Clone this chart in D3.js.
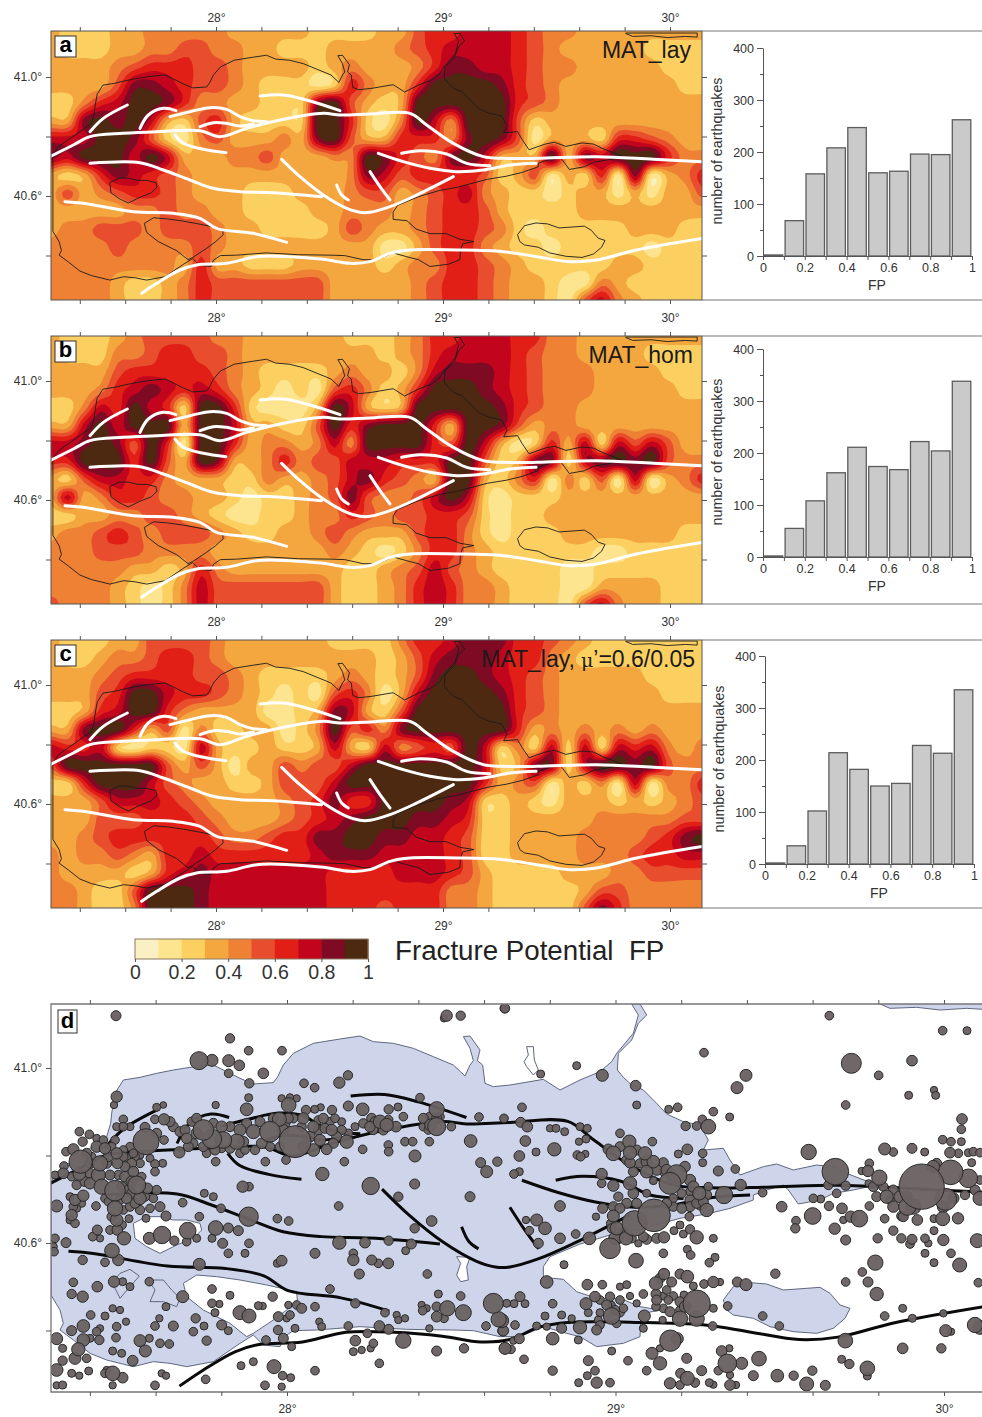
<!DOCTYPE html>
<html>
<head>
<meta charset="utf-8">
<script src="https://cdnjs.cloudflare.com/ajax/libs/d3/7.8.5/d3.min.js"></script>
<style>
  body { margin: 0; background: #fff; }
  svg { display: block; font-family: "Liberation Sans", Arial, sans-serif; }
  .axis path, .axis line { stroke: #555; }
  .axis text { fill: #333; }
</style>
</head>
<body>
<svg id="fig" width="982" height="1417"></svg>
<script>
// Fracture potential class (first digit of FP) read on a 40 x 16 grid over each map
const fpLay = [
  "3222334444433333222233566777654433333333",
  "3222334455443322233334567777654333332222",
  "3333456665543333234333468877654433333222",
  "3333588765543222126433699998654333333322",
  "2246799864433222895323999999654333333333",
  "3389897325632222996214974999523333333333",
  "7779985214533343895336664898513332665433",
  "8799979733344533344986548973339387999644",
  "3236876543333333334875666652351326181346",
  "3534566543332223334553456743221233131335",
  "3333344544332222334443456653222233333333",
  "3445554555433222235433456654212222233322",
  "4444544445433333333311356643221222221222",
  "4444444436332223333323446654322222332222",
  "4444322346555555533333456654332114322222",
  "4444322346555555533333456654332157432222"
];
const fpHom = [
  "3222345555443333332223466777664433333333",
  "3222445665543333333323467777654433332222",
  "3333566666543222234332478887654443333222",
  "3334678767643212156423699987654443333322",
  "2247697629962111397323999998654433333333",
  "3379799939973322596899963998534433333333",
  "7789859619963443474999965973126372757533",
  "6699969539833464557776669952388278989544",
  "3257766433322433457865439932461425171346",
  "3734665443321223458544579721222333333333",
  "2233445543211223446545566521223333333333",
  "3445654555432233454333566421222333333322",
  "4445554444333333343212466432222221122222",
  "4444433236433333332234575432222112222222",
  "4444321247555555532234676443222113333222",
  "5444321247555555532234676443222157433222"
];
const fpLow = [
  "3222335555433333322224667888665432222222",
  "3223445665433333333323578887664322222222",
  "3334566665543222234323589987654333332222",
  "3335699766543212156413799998654333333222",
  "2236799643333112387325999999654333333333",
  "3389963514223312495648999999634343434333",
  "7667212217322322373274565972427272767434",
  "5999999535313354557999999972388279989544",
  "2269997543322355579999999963451324171446",
  "3335777654333345686699998722321333232345",
  "3335556665433345678999887622333334444455",
  "3345666666544566889988776522333344445689",
  "4344543667666666788877776522333344456677",
  "4333323678777777766667776532222333445555",
  "4432259998777777766666664432222235544444",
  "4432249998777777766656664432222258644444"
];

const fpClasses = ["#fbf0c4", "#fde58f", "#fcd060", "#f3a73e", "#ee8134", "#e84e2d", "#e21f17", "#c2051d", "#7f0a24", "#4e2911"];
const fpThresholds = [0.1, 0.2, 0.3, 0.4, 0.5, 0.6, 0.7, 0.8, 0.9];
const fpLabels = [0, 0.2, 0.4, 0.6, 0.8, 1];

// Number of earthquakes per FP bin (0-0.1 ... 0.9-1)
const histLay = [2, 68, 158, 208, 247, 160, 163, 196, 195, 262];
const histHom = [2, 55, 108, 162, 211, 174, 168, 222, 204, 338];
const histLow = [2, 35, 102, 214, 182, 150, 155, 228, 213, 335];

const lonTicks = [27.4, 27.6, 27.8, 28, 28.2, 28.4, 28.6, 28.8, 29, 29.2, 29.4, 29.6, 29.8, 30];
const latTicks = [41, 40.8, 40.6, 40.4];

// Fault traces, digitiser counts on the 3x enlargement of map a (681 per deg lon, 892.5 per deg lat)
const faults = [
  [[30,470],[100,435],[150,410],[250,400],[350,395],[480,392],[540,410],[620,385],[720,360],[850,340],[900,345],[990,342],[1110,340],[1160,375],[1240,430],[1330,470],[1390,475],[1490,475],[1670,470],[1840,478],[1985,485]],
  [[150,395],[190,355],[262,315]],
  [[300,385],[325,345],[370,325],[408,332]],
  [[390,350],[450,335],[510,323],[560,328],[600,350],[640,362],[680,365]],
  [[480,380],[520,368],[560,370],[600,378],[640,372]],
  [[405,405],[430,430],[490,448],[558,458]],
  [[150,490],[300,488],[370,510],[450,540],[520,565],[600,575],[700,578],[845,590]],
  [[75,605],[130,610],[280,635],[400,640],[480,655],[530,685],[640,700],[740,727]],
  [[660,288],[730,285],[800,300],[900,332]],
  [[725,478],[780,530],[850,585],[920,625],[960,637],[990,637],[1050,620],[1120,590],[1240,530]],
  [[890,555],[905,585],[925,600]],
  [[990,515],[1020,560],[1050,600]],
  [[1015,460],[1090,485],[1170,505],[1250,515],[1330,510],[1410,495],[1488,490]],
  [[1085,460],[1140,452],[1220,462],[1280,490],[1350,497]],
  [[305,880],[350,850],[420,810],[470,795],[560,790],[650,770],[750,770],[850,778],[930,790],[990,785],[1050,760],[1110,750],[1250,750],[1390,755],[1490,770],[1590,785],[1670,780],[1790,750],[1990,715]]
];

// Coast outlines, digitiser counts on the 3x enlargement of map d (985.5 per deg lon, 1312.5 per deg lat)
const coastMain = [[33,575],[60,540],[100,510],[130,490],[170,460],[200,440],[212,400],[215,370],[225,310],[250,270],[300,262],[350,250],[400,240],[450,232],[520,225],[570,250],[600,265],[640,282],[700,278],[712,262],[730,225],[760,190],[820,160],[900,147],[960,138],[1000,155],[1060,160],[1120,175],[1180,200],[1240,225],[1275,258],[1290,225],[1300,212],[1290,175],[1270,140],[1290,138],[1320,180],[1312,212],[1328,225],[1335,280],[1360,290],[1410,285],[1440,280],[1510,268],[1560,300],[1620,270],[1680,245],[1715,215],[1730,190],[1780,130],[1795,75],[1775,42],[1800,42],[1820,75],[1795,100],[1775,150],[1735,190],[1732,240],[1750,262],[1775,285],[1810,300],[1850,340],[1880,372],[1930,395],[1980,405],[2005,450],[1990,480],[2050,475],[2070,510],[2100,555],[2170,530],[2210,522],[2260,540],[2330,525],[2380,530],[2420,550],[2510,585],[2440,600],[2380,610],[2340,630],[2275,642],[2245,600],[2230,585],[2180,600],[2140,615],[2140,630],[2070,655],[2000,672],[1920,685],[1790,720],[1710,735],[1620,762],[1530,800],[1510,830],[1510,862],[1570,868],[1610,905],[1670,925],[1740,925],[1800,950],[1860,960],[1812,970],[1802,1000],[1800,1040],[1750,1060],[1670,1070],[1620,1040],[1580,1030],[1510,1010],[1440,1040],[1380,1040],[1300,1022],[1240,1020],[1100,1018],[960,1010],[830,1020],[760,1022],[730,1042],[720,1070],[670,1065],[640,1035],[600,1060],[520,1115],[440,1130],[390,1120],[340,1115],[280,1130],[200,1110],[150,1090],[100,1050],[60,1020],[70,1000],[60,960],[33,915]];
const islandKapidag = [[430,880],[470,855],[530,860],[600,870],[680,885],[770,905],[772,930],[740,960],[700,990],[640,1030],[620,1040],[570,1000],[490,960],[440,920]];
const islandSmall = [[280,700],[320,680],[360,680],[400,690],[440,690],[480,700],[485,720],[460,745],[410,765],[360,790],[320,770],[285,745]];
const lakeHole = [[1250,800],[1290,802],[1280,830],[1285,870],[1262,875],[1250,855],[1262,820]];
const lakeIznik = [[2050,930],[2080,890],[2130,878],[2180,882],[2230,900],[2340,892],[2370,910],[2400,945],[2430,955],[2415,985],[2380,1015],[2330,1030],[2260,1025],[2190,1010],[2140,985],[2080,975],[2060,960]];
const coastNorth = [[2520,42],[2550,55],[2630,52],[2700,60],[2780,55],[2830,58],[2830,40],[2520,40]];
const outlinesInland = [
  [[240,850],[270,838],[298,858],[270,890],[240,925],[228,900],[215,880],[240,850]],
  [[325,870],[370,870],[395,900],[420,925],[410,950],[370,935],[330,935],[345,900],[325,870]],
  [[1460,170],[1480,170],[1483,210],[1495,240],[1480,255],[1460,230],[1452,215],[1465,195],[1460,170]]
];

// Earthquakes in map d: x, y in the same counts, size in counts
const quakesWest = [[228,77,12],[1220,77,14],[1212,85,8],[1262,77,11],[1394,55,11],[570,145,11],[626,182,10],[726,182,10],[477,212,24],[516,211,15],[566,212,15],[598,226,13],[670,250,13],[566,250,10],[628,280,11],[924,256,11],[898,278,14],[792,280,10],[824,293,10],[230,320,14],[222,345,8],[626,323,9],[527,345,8],[620,358,16],[725,325,8],[746,345,19],[770,325,8],[750,322,8],[925,348,12],[968,358,16],[876,360,11],[842,352,8],[824,358,9],[798,360,11],[1046,358,11],[1074,351,9],[1140,323,10],[1190,358,20],[370,345,7],[350,352,9],[1317,381,10],[1392,385,10],[1090,380,10],
[250,388,10],[230,410,9],[250,410,10],[270,410,9],[315,412,12],[345,388,10],[372,388,14],[400,410,12],[420,425,12],[470,385,12],[490,420,28],[516,447,26],[545,410,14],[550,450,22],[590,455,20],[570,410,12],[600,420,15],[640,425,18],[690,425,28],[718,388,18],[765,455,45],[790,385,14],[820,410,14],[850,385,12],[870,395,10],[885,385,10],[875,420,14],[905,420,11],[920,455,17],[945,410,9],[995,385,12],[990,410,13],[1020,395,17],[1040,405,17],[1068,410,13],[1150,385,12],[1172,405,15],[1190,410,24],[1234,410,10],[1150,410,10],[1292,453,16],[1095,455,10],[1118,455,10],[1168,455,10],[1125,498,15],[1045,465,10],[1046,485,10],[968,478,10],[913,515,10],[847,552,17],[860,478,13],[820,480,16],[790,470,14],[840,450,14],[445,470,12],[418,487,14],[500,490,10],[527,515,10],[570,475,12],[600,490,10],[645,480,11],[676,515,10],[738,510,10],[318,455,36],[372,450,10],[350,430,12],[270,470,10],[180,520,20],[122,515,32],[175,555,18],[118,552,16],[170,470,14],[195,475,14],[230,490,14],[232,520,13],[200,520,12],[225,450,10],[78,485,10],[100,478,14],[118,425,10],[128,455,11],[148,433,10],[72,528,10],[70,550,13],[45,555,9],[150,580,14],[185,590,20],[225,602,28],[290,585,24],[255,560,13],[280,545,13],[275,520,12],[345,522,10],[368,520,9],[345,545,10],[322,595,13],[300,625,16],[260,625,13],[270,650,11],[225,655,20],[230,690,16],[50,648,15],[105,630,14],[130,617,14],[100,650,10],[95,675,14],[105,700,10],[168,648,10],[330,655,10],[300,660,11],[360,650,12],[378,678,12],[267,686,9],[318,685,9],[232,720,13],[252,745,17],[172,720,12],[180,745,8],[158,740,10],[328,745,15],[366,735,23],[403,752,11],[443,722,22],[470,745,9],[440,755,10],[478,680,10],[428,638,10],[527,714,19],[565,714,12],[595,722,12],[516,745,9],[548,760,12],[626,680,26],[712,686,10],[746,693,10],[608,590,14],[627,590,10],[493,610,9],[520,620,9],[543,655,10],[627,760,10],[565,790,10],[615,790,9],[992,588,23],[1124,582,12],[1075,620,11],[1290,620,12],[1322,518,12],[1340,545,15],[1372,515,11],[896,648,10],[1175,693,13],[1124,715,11],[45,745,10],[78,758,12],[40,770,9],[42,785,10],[216,782,19],[235,810,14],[195,817,10],[128,810,11],[898,758,17],[975,758,13],[1046,752,11],[1114,762,12],[1097,782,9],[825,790,12],[940,790,10],[940,810,14],[725,812,13],[712,820,9],[995,810,12],[1015,820,10],[1045,820,13],[478,823,15],[958,852,12],[1162,852,10],[100,877,10],[172,890,13],[222,875,14],[248,875,9],[270,890,9],[328,875,10],[95,912,11],[128,920,14],[428,920,15],[516,897,10],[570,916,9],[698,920,11],[870,897,10],[1195,912,9],[1262,918,10],[1360,940,27],[1376,988,20],[1338,1008,10],[1270,968,21],[1222,955,20],[1190,950,11],[1190,980,13],[1212,985,10],[1145,945,8],[1148,962,10],[1160,955,8],[946,940,11],[825,950,10],[785,955,12],[770,945,10],[745,945,8],[750,975,10],[715,980,12],[740,985,8],[600,968,18],[627,978,18],[655,947,9],[668,948,8],[516,940,10],[538,942,8],[525,968,9],[467,985,11],[400,1008,12],[378,950,9],[345,1008,10],[358,985,8],[1035,968,10],[1070,975,8],[1075,990,8],[1095,985,8],[1018,1008,13],[1046,1018,12],[925,1008,10],[838,995,8],[845,1010,9],[982,1030,10],[1168,1015,8],[1388,1023,12],[1090,1052,20],[946,1052,13],[1000,1060,10],[992,1075,8],[965,1080,8],[940,1085,9],[1190,1083,12],[1272,1075,11],[1395,1075,15],[755,1070,9],[730,1045,12],[714,1020,11],[765,1015,9],[678,1050,10],[565,1022,9],[545,1005,12],[500,1052,11],[492,1008,9],[460,1025,10],[300,1052,15],[316,1083,15],[328,1045,9],[360,1060,10],[388,1062,10],[278,1112,13],[245,1090,9],[218,1083,9],[228,1043,10],[230,1010,10],[258,995,8],[240,960,8],[218,955,8],[195,978,9],[152,975,10],[130,1008,16],[95,1022,12],[180,1015,8],[170,1025,10],[150,1045,9],[178,1050,11],[130,1050,16],[50,1046,15],[68,1075,9],[115,1078,17],[105,1105,15],[140,1105,10],[68,1112,11],[50,1140,16],[95,1150,9],[118,1157,8],[146,1143,9],[195,1150,10],[218,1150,19],[248,1163,13],[218,1186,8],[200,1140,8],[68,1185,9],[50,1186,8],[345,1186,10],[365,1150,8],[378,1157,8],[497,1168,10],[603,1127,9],[640,1115,9],[702,1130,18],[675,1186,10],[728,1157,10],[752,1163,9],[725,1190,8],[825,1142,10],[1018,1120,10],
// the crowded clusters, where circles hide each other
[140,490,12],[150,520,12],[150,550,12],[135,575,12],[95,560,10],[110,585,11],[205,500,12],[250,500,11],[255,530,12],[210,555,12],[235,555,11],[195,625,10],[245,590,12],[265,600,12],[305,560,10],[315,620,11],[285,640,12],[250,660,10],[240,630,11],[205,635,10],[215,680,11],[245,705,11],[210,720,10],[350,600,11],[340,625,10],[275,610,12],[275,575,14],[260,505,10],[300,495,9],[155,500,10],[190,450,10],[215,470,10],[170,445,9],[250,480,10],[285,500,10],[330,505,9],[300,520,10],[280,490,10],[90,620,9],[125,640,9],[110,655,9],[90,690,9],[390,395,12],[435,420,12],[455,395,11],[470,430,14],[440,445,13],[460,460,11],[490,470,12],[520,400,12],[525,480,12],[545,475,10],[610,455,13],[620,400,12],[615,480,10],[660,395,12],[665,460,13],[690,470,11],[720,470,11],[735,400,12],[745,385,12],[700,385,12],[810,440,13],[835,420,12],[855,415,12],[890,440,12],[880,460,12],[905,395,9],[925,430,10],[835,390,10],[760,385,11],[785,410,11],[730,420,14],[970,400,11],[1005,395,12],[1000,420,11],[1045,390,11],[1030,420,12],[1170,380,11],[1190,385,12],[1165,420,10],[1200,380,10]];
// East half: x counted from the start of the second enlargement
const quakesEast = [[15,55,11],[988,77,10],[1328,122,10],[1401,122,9],[612,188,10],[1054,220,27],[1236,212,13],[738,256,15],[711,293,15],[1136,256,10],[230,227,9],[307,256,15],[122,252,9],[407,287,13],[1226,316,9],[1302,300,8],[1307,316,9],[1037,345,10],[410,345,9],[66,352,10],[533,352,10],[506,358,9],[640,365,10],[689,381,9],[12,385,8],[62,397,12],[82,410,13],[150,415,8],[168,415,9],[194,425,9],[1386,387,13],[1384,418,10],[625,410,19],[607,388,10],[590,408,10],[557,408,11],[240,410,9],[262,415,9],[360,430,10],[258,447,9],[237,455,8],[76,453,13],[163,478,17],[108,486,9],[58,498,13],[232,495,10],[256,492,8],[242,500,10],[325,478,13],[340,490,19],[388,455,17],[390,488,17],[435,490,17],[457,455,10],[390,518,13],[400,545,12],[440,545,16],[490,518,12],[530,555,28],[510,580,30],[562,478,13],[535,492,9],[608,490,10],[608,518,9],[655,543,12],[706,537,10],[926,486,20],[1154,477,15],[1180,486,10],[1236,475,12],[1274,486,9],[1328,449,10],[1353,455,10],[1384,455,9],[1350,488,13],[1375,490,10],[1405,488,9],[1420,485,10],[1440,488,10],[1415,518,9],[1108,520,10],[1006,545,37],[1104,543,14],[1085,543,8],[1138,563,20],[1337,628,30],[1265,590,65],[1352,547,34],[1405,565,25],[1440,625,18],[1160,620,17],[1130,620,12],[1106,580,8],[985,585,11],[1037,587,11],[1010,610,10],[305,552,14],[42,552,10],[58,545,9],[305,580,10],[340,587,14],[390,580,17],[440,610,9],[460,572,9],[490,545,10],[598,610,17],[570,605,10],[570,630,12],[620,660,17],[600,645,12],[672,615,23],[722,585,14],[788,608,10],[845,650,13],[938,678,22],[987,648,11],[1026,655,13],[940,625,10],[962,627,9],[1078,686,22],[1052,680,14],[1108,648,10],[1030,690,8],[1004,716,14],[888,692,10],[886,715,11],[1154,686,10],[1205,678,12],[1222,650,23],[1252,690,13],[1328,686,18],[1374,685,14],[1302,686,9],[1180,722,11],[1302,722,9],[1037,750,12],[1133,745,11],[1204,745,11],[1236,748,12],[1230,762,10],[1275,745,10],[1285,760,8],[1330,750,14],[1432,752,18],[1275,790,9],[1353,790,10],[1302,818,9],[1379,825,18],[1126,818,20],[1087,846,10],[1037,876,10],[1104,876,12],[1130,912,17],[1208,955,9],[1154,978,10],[1237,985,9],[1330,970,8],[1435,878,10],[460,515,16],[460,570,8],[440,516,14],[180,648,13],[110,690,15],[135,715,16],[88,722,10],[78,690,8],[180,745,13],[227,732,10],[115,760,12],[268,745,16],[288,680,8],[308,655,12],[340,678,15],[330,700,8],[350,715,17],[378,745,17],[404,700,35],[462,676,46],[345,745,16],[330,775,28],[408,812,19],[415,760,8],[440,748,12],[470,745,12],[492,742,14],[522,722,9],[540,705,9],[568,680,10],[570,718,11],[550,732,9],[590,742,17],[640,745,9],[562,778,9],[572,795,10],[490,790,10],[645,802,9],[628,818,10],[192,824,9],[140,876,16],[262,884,13],[307,884,10],[360,890,8],[380,884,9],[492,852,14],[540,852,12],[562,860,16],[468,880,17],[515,876,12],[612,882,10],[640,876,14],[660,876,8],[712,876,12],[738,884,15],[580,888,9],[826,851,11],[285,920,13],[258,941,15],[335,945,8],[360,930,10],[390,918,8],[410,940,8],[430,912,10],[468,912,12],[490,918,9],[520,918,10],[552,915,9],[590,941,38],[490,955,10],[468,950,10],[640,955,9],[683,948,10],[335,978,22],[265,968,9],[300,968,9],[360,968,10],[433,978,15],[488,990,8],[540,986,20],[590,986,20],[185,975,9],[215,985,8],[135,978,9],[110,1008,9],[158,941,10],[60,920,12],[42,941,9],[75,941,9],[20,940,9],[5,992,18],[45,1005,10],[10,1022,13],[140,1010,8],[185,1015,12],[240,1012,17],[290,1020,12],[235,1050,9],[295,990,9],[430,1015,9],[638,1008,10],[788,978,10],[838,1008,10],[158,1046,16],[58,1046,12],[40,1052,8],[15,1075,14],[33,1078,10],[72,1108,10],[335,1083,9],[1036,1052,19],[1208,1075,13],[1324,1075,11],[1337,1022,15],[1353,1025,8],[1425,1005,20],[1440,1012,18],[511,1052,29],[532,1046,15],[456,1090,15],[480,1075,8],[480,1120,17],[560,1105,12],[665,1083,13],[682,1120,25],[725,1120,15],[777,1106,19],[688,1075,8],[265,1112,12],[384,1112,10],[158,1142,11],[285,1142,10],[262,1157,9],[236,1178,9],[290,1178,14],[330,1178,10],[440,1142,10],[510,1180,14],[542,1150,12],[562,1165,18],[540,1185,10],[585,1178,11],[605,1142,12],[655,1142,10],[628,1178,9],[640,1184,8],[690,1185,13],[708,1185,8],[690,1155,8],[760,1157,12],[832,1157,16],[881,1157,11],[937,1142,11],[920,1182,18],[976,1186,12],[1025,1108,9],[1048,1122,11],[1102,1135,19],[1102,1158,9],
[360,470,12],[380,510,12],[410,480,12],[420,520,11],[440,510,12],[470,540,13],[500,540,14],[555,530,13],[570,570,14],[580,590,14],[620,615,12],[570,650,12],[590,640,12],[610,635,12],[625,590,10],[545,610,11],[520,625,10],[500,640,12],[520,650,11],[545,655,12],[400,610,13],[410,640,12],[355,620,11],[380,640,12],[340,650,12],[360,655,12],[335,715,11],[370,725,11],[395,745,11],[430,740,12],[355,745,13],[1120,590,12],[1180,600,12],[1200,620,15],[1180,650,14],[1210,680,12],[1220,620,14],[1240,650,20],[1300,530,16],[1310,520,12],[1330,650,15],[1360,625,14],[1395,615,11],[1425,600,12],[1440,570,10],[1150,590,11],[1170,630,10],[300,930,10],[330,920,11],[345,960,11],[320,945,12],[370,955,10],[470,930,12],[500,900,10],[480,865,12],[505,930,10],[540,935,12],[555,950,14],[510,965,12],[540,960,10],[350,1000,10],[300,1005,10]];
const eastOffset = 1380;

const svg = d3.select("#fig");
const color = d3.scaleThreshold().domain(fpThresholds).range(fpClasses);

// counts -> degrees
const faultLon = d3.scaleLinear().domain([528, 1209]).range([28, 29]);
const faultLat = d3.scaleLinear().domain([231, 1123.5]).range([41, 40]);
const coastLon = d3.scaleLinear().domain([741, 1726.5]).range([28, 29]);
const coastLat = d3.scaleLinear().domain([234, 1546.5]).range([41, 40]);
const faultDeg = p => [faultLon(p[0]), faultLat(p[1])];
const coastDeg = p => [coastLon(p[0]), coastLat(p[1])];

// Catmull-Rom resampling of the class grid, so the contour bands come out round
function resample(grid, f) {
    const ny = grid.length, nx = grid[0].length;
    const v = (i, j) => +grid[Math.max(0, Math.min(ny - 1, j))][Math.max(0, Math.min(nx - 1, i))] / 10 + 0.05;
    const w = t => [
        0.5 * (-t + 2 * t * t - t * t * t),
        0.5 * (2 - 5 * t * t + 3 * t * t * t),
        0.5 * (t + 4 * t * t - 3 * t * t * t),
        0.5 * (-t * t + t * t * t)
    ];
    const width = (nx - 1) * f + 1, height = (ny - 1) * f + 1;
    const values = [];
    for (let j = 0; j < height; j++) {
        const j0 = Math.floor(j / f), wy = w(j / f - j0);
        for (let i = 0; i < width; i++) {
            const i0 = Math.floor(i / f), wx = w(i / f - i0);
            let sum = 0;
            for (let b = 0; b < 4; b++) {
                for (let a = 0; a < 4; a++) {
                    sum += wx[a] * wy[b] * v(i0 + a - 1, j0 + b - 1);
                }
            }
            values.push(sum);
        }
    }
    return {values, width, height};
}

function makeAxes(g, x, y, box, opt) {
    const lonFmt = d => Number.isInteger(d) ? d + "°" : "";
    const latFmt = d => (d === 41 || d === 40.6) ? d.toFixed(1) + "°" : "";
    const blank = () => "";

    const addAxis = (axis, tx, ty) => {
        const a = g.append("g").attr("class", "axis")
            .attr("transform", `translate(${tx},${ty})`)
            .call(axis.tickSizeOuter(0));
        a.select(".domain").remove();
        a.selectAll("text").style("font-size", "12px");
        return a;
    };
    addAxis(d3.axisTop(x).tickValues(lonTicks).tickSize(4).tickPadding(5).tickFormat(opt.topLabels ? lonFmt : blank), 0, box.top);
    addAxis(d3.axisBottom(x).tickValues(lonTicks).tickSize(4).tickPadding(opt.bottomPad).tickFormat(lonFmt), 0, box.bottom);
    addAxis(d3.axisLeft(y).tickValues(latTicks).tickSize(5).tickPadding(4).tickFormat(latFmt), box.left, 0);
    if (opt.rightTicks) addAxis(d3.axisRight(y).tickValues(latTicks).tickSize(5).tickFormat(blank), box.right, 0);
}

function drawMap(cfg) {
    const box = cfg.box;
    const x = d3.scaleLinear().domain([28, 30]).range([216, 670]);
    const y = d3.scaleLinear().domain([41, 40.6]).range([cfg.y41, cfg.y41 + 119]);
    const g = svg.append("g");
    const line = d3.line().x(d => x(d[0])).y(d => y(d[1]));
    const clipId = "clip-" + cfg.letter;

    g.append("clipPath").attr("id", clipId).append("rect")
        .attr("x", box.left).attr("y", box.top)
        .attr("width", box.right - box.left).attr("height", box.bottom - box.top);
    const inner = g.append("g").attr("clip-path", `url(#${clipId})`);

    // filled FP classes
    const fine = resample(cfg.grid, 4);
    const gx = d3.scaleLinear().domain([0.5, fine.width - 0.5]).range([box.left, box.right]);
    const gy = d3.scaleLinear().domain([0.5, fine.height - 0.5]).range([box.top, box.bottom + 1]);
    const contours = d3.contours().size([fine.width, fine.height]).thresholds(fpThresholds)(fine.values);
    const path = d3.geoPath(d3.geoTransform({
        point: function(px, py) { this.stream.point(gx(px), gy(py)); }
    }));
    inner.append("rect")
        .attr("x", box.left).attr("y", box.top)
        .attr("width", box.right - box.left).attr("height", box.bottom - box.top)
        .attr("fill", fpClasses[0]);
    inner.selectAll(".band").data(contours).join("path")
        .attr("class", "band")
        .attr("d", path)
        .attr("fill", d => color(d.value));

    // coast
    inner.selectAll(".coast").data([coastMain, islandKapidag, islandSmall, lakeIznik, coastNorth]).join("path")
        .attr("class", "coast")
        .attr("d", d => line(d.map(coastDeg)) + "Z")
        .attr("fill", "none")
        .attr("stroke", "#1c1c1c")
        .attr("stroke-width", 0.9);

    // faults
    const faultLine = d3.line().x(d => x(d[0])).y(d => y(d[1])).curve(d3.curveCatmullRom);
    inner.selectAll(".fault").data(faults).join("path")
        .attr("class", "fault")
        .attr("d", d => faultLine(d.map(faultDeg)))
        .attr("fill", "none")
        .attr("stroke", "#fff")
        .attr("stroke-width", 3)
        .attr("stroke-linecap", "round");

    g.append("rect")
        .attr("x", box.left).attr("y", box.top)
        .attr("width", box.right - box.left).attr("height", box.bottom - box.top)
        .attr("fill", "none").attr("stroke", "#555").attr("stroke-width", 1);
    makeAxes(g, x, y, box, {topLabels: cfg.topLabels, bottomPad: 9, rightTicks: true});

    letterBox(g, cfg.letter, box.left + 4, box.top + 5, 21, 21);
    const title = g.append("text")
        .attr("x", cfg.titleX).attr("y", box.top + 27)
        .attr("text-anchor", "end")
        .style("font-size", "23px").attr("fill", "#1a1a1a");
    title.text(cfg.title);
    if (cfg.titleRest) {
        title.append("tspan").style("font-family", "'DejaVu Serif', serif").style("font-size", "19px").text(" μ");
        title.append("tspan").text(cfg.titleRest);
    }

    // histogram on the right
    drawHist(cfg, box);
}

function letterBox(g, letter, bx, by, w, h) {
    g.append("rect").attr("x", bx).attr("y", by).attr("width", w).attr("height", h)
        .attr("fill", "#fff").attr("stroke", "#333");
    g.append("text").attr("x", bx + w / 2).attr("y", by + h - 5)
        .attr("text-anchor", "middle")
        .style("font-size", "22px").style("font-weight", "bold")
        .text(letter);
}

function drawHist(cfg, box) {
    const h = svg.append("g");
    h.append("line").attr("x1", box.right).attr("x2", 982).attr("y1", box.top).attr("y2", box.top).attr("stroke", "#777");
    h.append("line").attr("x1", box.right).attr("x2", 982).attr("y1", box.bottom).attr("y2", box.bottom).attr("stroke", "#777");

    const x = d3.scaleLinear().domain([0, 1]).range([cfg.histX, cfg.histX + 209]);
    const y = d3.scaleLinear().domain([0, 400]).range([cfg.histY, cfg.histY - 208]);
    h.selectAll(".bar").data(cfg.hist).join("rect")
        .attr("class", "bar")
        .attr("x", (d, i) => x(i / 10) + 1.2)
        .attr("width", x(0.1) - x(0) - 2.4)
        .attr("y", d => y(d))
        .attr("height", d => y(0) - y(d))
        .attr("fill", "#cacaca")
        .attr("stroke", "#5c5c5c")
        .attr("stroke-width", 1.3);

    const xa = h.append("g").attr("class", "axis").attr("transform", `translate(0,${cfg.histY})`)
        .call(d3.axisBottom(x).tickValues(d3.range(0, 11).map(d => d / 10)).tickSize(4).tickSizeOuter(0)
            .tickFormat(d => Math.round(d * 10) % 2 === 0 ? d : ""));
    xa.selectAll("text").style("font-size", "12.5px").attr("dy", "0.75em");
    const ya = h.append("g").attr("class", "axis").attr("transform", `translate(${cfg.histX},0)`)
        .call(d3.axisLeft(y).tickValues(d3.range(0, 401, 50)).tickSizeOuter(0)
            .tickFormat(d => d % 100 === 0 ? d : ""));
    ya.selectAll("text").style("font-size", "12.5px");
    ya.selectAll(".tick line").attr("x2", d => d % 100 === 0 ? -6 : -3);

    h.append("text")
        .attr("transform", `translate(${cfg.histX - 41},${cfg.histY - 105}) rotate(-90)`)
        .attr("text-anchor", "middle")
        .style("font-size", "14.3px").attr("fill", "#333")
        .text("number of earthquakes");
    h.append("text")
        .attr("x", cfg.histX + 114).attr("y", cfg.histY + 34)
        .attr("text-anchor", "middle")
        .style("font-size", "14px").attr("fill", "#333")
        .text("FP");
}

drawMap({letter: "a", grid: fpLay, hist: histLay, y41: 77, box: {left: 51, right: 702, top: 31, bottom: 300},
    topLabels: true, title: "MAT_lay", titleX: 691, histX: 763, histY: 256});
drawMap({letter: "b", grid: fpHom, hist: histHom, y41: 381, box: {left: 51, right: 702, top: 336, bottom: 604},
    topLabels: false, title: "MAT_hom", titleX: 693, histX: 763, histY: 557});
drawMap({letter: "c", grid: fpLow, hist: histLow, y41: 685, box: {left: 51, right: 702, top: 640, bottom: 908},
    topLabels: false, title: "MAT_lay,", titleRest: "’=0.6/0.05", titleX: 695, histX: 765, histY: 864});

// colour bar
const barG = svg.append("g");
const barX = d3.scaleLinear().domain([0, 1]).range([135, 368]);
barG.selectAll("rect").data(fpClasses).join("rect")
    .attr("x", (d, i) => barX(i / 10))
    .attr("width", barX(0.1) - barX(0) + 0.5)
    .attr("y", 939).attr("height", 20)
    .attr("fill", d => d);
barG.append("rect").attr("x", 135).attr("y", 939).attr("width", 233).attr("height", 20)
    .attr("fill", "none").attr("stroke", "#8a7a60");
const barAxis = barG.append("g").attr("class", "axis").attr("transform", "translate(0,959)")
    .call(d3.axisBottom(barX).tickValues(fpLabels).tickSize(3).tickSizeOuter(0).tickFormat(d => d));
barAxis.select(".domain").remove();
barAxis.selectAll("text").style("font-size", "19.5px").attr("dy", "0.72em");
barG.append("text").attr("x", 395).attr("y", 960)
    .style("font-size", "27.7px").style("white-space", "pre").attr("fill", "#222")
    .text("Fracture Potential  FP");

// map d, earthquakes
function drawQuakes() {
    const box = {left: 51, right: 982, top: 1004, bottom: 1392};
    const x = d3.scaleLinear().domain([28, 30]).range([287, 944]);
    const y = d3.scaleLinear().domain([41, 40.6]).range([1068, 1243]);
    const size = d3.scaleLinear().domain([0, 985.5]).range([0, x(29) - x(28)]);
    const g = svg.append("g");
    const line = d3.line().x(d => x(d[0])).y(d => y(d[1]));
    const ring = d => line(d.map(coastDeg)) + "Z";

    g.append("clipPath").attr("id", "clip-d").append("rect")
        .attr("x", box.left).attr("y", box.top)
        .attr("width", box.right - box.left).attr("height", box.bottom - box.top);
    const inner = g.append("g").attr("clip-path", "url(#clip-d)");

    inner.append("path")
        .attr("d", [coastMain, islandKapidag, islandSmall, lakeHole].map(ring).join(""))
        .attr("fill", "#ced5ea").attr("fill-rule", "evenodd")
        .attr("stroke", "#5f6880").attr("stroke-width", 1);
    inner.selectAll(".lake").data([lakeIznik, coastNorth]).join("path")
        .attr("class", "lake")
        .attr("d", ring)
        .attr("fill", "#ced5ea").attr("stroke", "#5f6880").attr("stroke-width", 1);
    inner.selectAll(".inland").data(outlinesInland).join("path")
        .attr("class", "inland")
        .attr("d", d => line(d.map(coastDeg)))
        .attr("fill", "none").attr("stroke", "#5f6880").attr("stroke-width", 1);

    const faultLine = d3.line().x(d => x(d[0])).y(d => y(d[1])).curve(d3.curveCatmullRom);
    inner.selectAll(".fault").data(faults).join("path")
        .attr("class", "fault")
        .attr("d", d => faultLine(d.map(faultDeg)))
        .attr("fill", "none").attr("stroke", "#0a0a0a").attr("stroke-width", 3);

    // small events first so the big ones stay on top, as in the original
    const all = quakesWest.concat(quakesEast.map(d => [d[0] + eastOffset, d[1], d[2]]))
        .sort((a, b) => a[2] - b[2]);
    inner.selectAll(".quake").data(all).join("circle")
        .attr("class", "quake")
        .attr("cx", d => x(coastLon(d[0])))
        .attr("cy", d => y(coastLat(d[1])))
        .attr("r", d => size(d[2] + 3))
        .attr("fill", "#6a6262")
        .attr("fill-opacity", 0.96)
        .attr("stroke", "#2a2a2a")
        .attr("stroke-width", 1);

    // frame open on the right, the figure is cut at the page edge
    g.append("path")
        .attr("d", `M982,${box.top}H${box.left}V${box.bottom}H982`)
        .attr("fill", "none").attr("stroke", "#777").attr("stroke-width", 1.3);
    makeAxes(g, x, y, box, {topLabels: false, bottomPad: 8, rightTicks: false});
    letterBox(g, "d", 58, 1010, 19, 23);
}
drawQuakes();
</script>
</body>
</html>
